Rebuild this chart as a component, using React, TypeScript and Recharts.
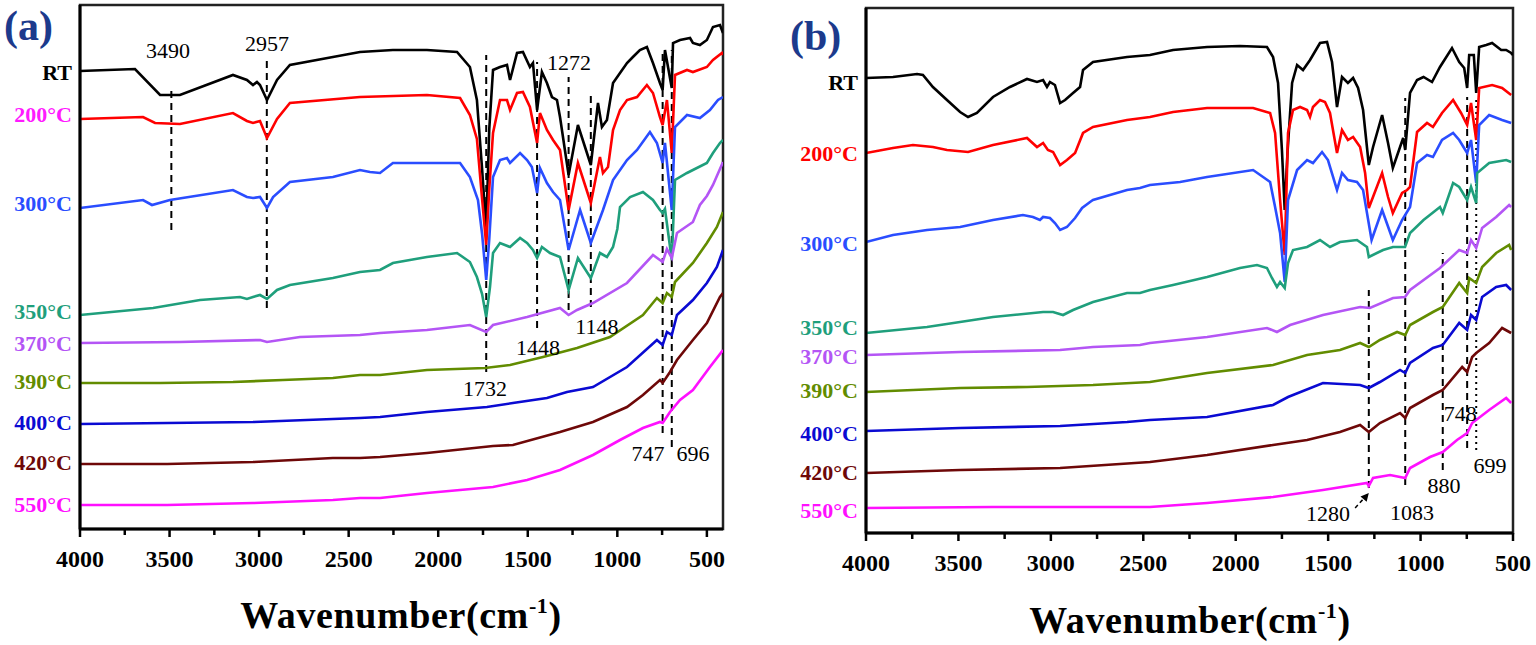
import React from 'react';
import { LineChart, Line, XAxis, YAxis, ReferenceLine, ReferenceDot, ReferenceArea } from 'recharts';

type Pt = [number, number];

// ---------- categories ----------
const TEMPS = ['RT', '200°C', '300°C', '350°C', '370°C', '390°C', '400°C', '420°C', '550°C'];
const LINE_COLORS = ['#000000', '#ff0000', '#2a4dff', '#1f9f7c', '#b455f5', '#628c00', '#0a0ad2', '#6e0808', '#ff10ff'];
const LABEL_COLORS_A = ['#000000', '#ff1aff', '#2a4dff', '#1f9f7c', '#b455f5', '#628c00', '#0a0ad2', '#6e0808', '#ff10ff'];
const LABEL_COLORS_B = ['#000000', '#ff0000', '#2a4dff', '#1f9f7c', '#b455f5', '#628c00', '#0a0ad2', '#6e0808', '#ff10ff'];
const X_TICKS = [4000, 3750, 3500, 3250, 3000, 2750, 2500, 2250, 2000, 1750, 1500, 1250, 1000, 750, 500];

// ---------- panel (a) spectra: [wavenumber, transmittance a.u.] ----------
const A_RT: Pt[] = [[4000,458],[3693,460],[3553,434],[3442,434],[3146,454],[3068,449],[3034,444],[3012,447],[2995,444],[2956,429],[2900,449],[2828,464],[2588,472],[2437,477],[2253,479],[2063,479],[1895,477],[1823,462],[1784,429],[1755,360],[1732,299],[1715,400],[1694,459],[1655,462],[1616,464],[1599,449],[1560,476],[1527,477],[1488,462],[1471,466],[1448,419],[1421,457],[1393,446],[1365,432],[1337,429],[1320,412],[1272,354],[1220,404],[1148,364],[1108,426],[1086,402],[1058,409],[1024,446],[985,456],[946,466],[913,472],[874,479],[835,482],[801,466],[762,446],[747,439],[734,479],[717,462],[696,441],[689,486],[650,489],[594,491],[578,486],[539,484],[500,489],[466,502],[427,504],[410,496]];
const A_200: Pt[] = [[4000,410],[3648,412],[3581,406],[3442,405],[3146,416],[3068,408],[3034,406],[2995,408],[2956,391],[2900,410],[2828,426],[2437,432],[2063,434],[1878,431],[1823,414],[1784,390],[1755,330],[1732,284],[1715,340],[1694,396],[1655,429],[1616,429],[1599,419],[1560,436],[1527,437],[1488,422],[1448,386],[1432,416],[1393,399],[1359,389],[1320,379],[1272,319],[1220,366],[1148,326],[1097,372],[1080,356],[1052,362],[1024,399],[985,419],[946,429],[890,432],[835,444],[801,436],[762,412],[747,404],[723,429],[696,376],[678,454],[611,459],[578,457],[500,462],[466,469],[416,476],[410,474]];
const A_300: Pt[] = [[4000,321],[3648,329],[3598,324],[3498,329],[3146,339],[3068,332],[3034,331],[2995,332],[2956,321],[2922,332],[2828,347],[2588,352],[2437,359],[2381,357],[2325,356],[2253,366],[1878,366],[1823,352],[1778,329],[1755,295],[1732,249],[1715,290],[1694,352],[1655,369],[1616,371],[1599,366],[1543,376],[1504,369],[1477,362],[1448,336],[1432,361],[1393,346],[1359,337],[1320,329],[1272,279],[1208,319],[1148,286],[1080,319],[1024,349],[946,369],[890,379],[818,397],[779,386],[747,366],[734,386],[696,319],[678,402],[611,414],[539,411],[483,419],[438,429],[410,432]];
const A_350: Pt[] = [[4000,214],[3592,221],[3330,229],[3107,232],[3068,230],[3034,232],[2995,234],[2956,230],[2900,239],[2828,244],[2588,251],[2437,257],[2325,259],[2253,266],[2063,272],[1895,276],[1823,267],[1784,252],[1755,235],[1732,212],[1711,242],[1694,276],[1655,286],[1599,282],[1543,291],[1504,286],[1471,279],[1448,271],[1421,282],[1376,276],[1320,272],[1272,239],[1220,271],[1148,251],[1097,276],[1058,272],[1024,282],[1000,300],[985,322],[929,332],[857,337],[801,329],[762,319],[747,316],[734,320],[696,269],[678,349],[611,356],[578,359],[500,366],[466,376],[427,386],[410,389]];
const A_370: Pt[] = [[4000,186],[3442,187],[2995,189],[2956,187],[2772,192],[2437,194],[2325,196],[2063,199],[1823,204],[1732,197],[1694,204],[1504,212],[1320,221],[1272,214],[1225,219],[1136,226],[946,246],[801,274],[747,267],[723,280],[696,271],[667,296],[578,307],[539,324],[500,333],[466,344],[410,367]];
const A_390: Pt[] = [[4000,146],[3553,146],[3146,147],[2867,149],[2588,151],[2437,154],[2325,154],[2063,159],[1739,161],[1599,164],[1415,172],[1225,181],[1041,192],[857,214],[779,231],[747,226],[723,236],[696,232],[678,247],[578,266],[500,286],[444,302],[410,317]];
const A_400: Pt[] = [[4000,105],[3514,106],[3034,107],[2588,110],[2437,111],[2325,112],[2063,117],[1728,122],[1583,126],[1393,131],[1281,137],[1136,142],[946,162],[779,189],[747,184],[723,197],[696,194],[667,214],[578,229],[500,246],[444,262],[410,279]];
const A_420: Pt[] = [[4000,65],[3514,65],[3034,67],[2588,71],[2437,71],[2325,72],[2063,76],[1694,83],[1583,84],[1320,97],[1136,107],[946,122],[857,134],[762,149],[747,146],[706,157],[667,169],[578,189],[500,206],[427,232],[410,236]];
const A_550: Pt[] = [[4000,24],[3514,24],[3034,26],[2588,29],[2437,31],[2325,31],[2063,36],[1694,42],[1504,49],[1320,59],[1136,74],[985,89],[857,101],[762,107],[747,106],[706,117],[650,129],[578,139],[483,162],[410,179]];

// ---------- panel (b) spectra ----------
const B_RT: Pt[] = [[4000,455],[3854,456],[3724,459],[3692,458],[3638,446],[3562,433],[3491,421],[3448,416],[3400,420],[3313,436],[3221,446],[3129,454],[3075,451],[3042,453],[3021,446],[3005,451],[2978,448],[2950,430],[2923,433],[2880,440],[2842,446],[2826,463],[2772,471],[2588,476],[2464,478],[2339,483],[2155,486],[1977,487],[1831,486],[1798,476],[1771,450],[1750,383],[1735,323],[1720,380],[1695,450],[1668,468],[1636,463],[1598,473],[1544,490],[1506,491],[1479,471],[1452,426],[1425,456],[1393,450],[1365,455],[1338,445],[1311,423],[1280,368],[1257,386],[1208,418],[1176,390],[1150,365],[1111,386],[1094,395],[1083,383],[1057,440],[1019,453],[984,456],[938,451],[895,466],[830,485],[791,471],[764,465],[748,445],[737,478],[712,478],[699,440],[683,486],[645,488],[613,490],[564,483],[537,483],[510,480],[500,478]];
const B_200: Pt[] = [[4000,380],[3854,385],[3746,388],[3638,386],[3562,383],[3448,381],[3313,388],[3129,395],[3075,386],[3042,390],[3016,383],[2988,381],[2950,368],[2913,373],[2869,380],[2826,400],[2772,406],[2588,413],[2464,416],[2339,421],[2155,425],[1906,425],[1814,420],[1787,400],[1760,333],[1735,278],[1717,400],[1690,423],[1652,426],[1614,423],[1598,416],[1582,426],[1544,433],[1517,431],[1490,420],[1452,380],[1425,403],[1393,393],[1365,396],[1327,386],[1300,360],[1280,325],[1208,360],[1176,336],[1150,320],[1100,340],[1073,343],[1057,346],[1019,401],[965,410],[933,406],[884,420],[824,433],[781,420],[748,408],[727,430],[699,393],[683,445],[613,448],[559,445],[510,438]];
const B_300: Pt[] = [[4000,291],[3854,298],[3670,303],[3491,306],[3313,313],[3151,318],[3097,316],[3059,313],[3042,316],[3005,315],[2978,310],[2950,303],[2913,306],[2869,315],[2831,325],[2788,331],[2772,333],[2588,343],[2518,345],[2464,348],[2301,351],[2155,356],[1906,363],[1852,356],[1814,351],[1787,326],[1760,300],[1735,251],[1717,333],[1668,363],[1614,373],[1582,370],[1533,381],[1501,373],[1452,343],[1425,360],[1393,353],[1344,351],[1311,343],[1265,293],[1208,323],[1150,293],[1100,313],[1057,326],[1019,370],[965,378],[933,376],[884,393],[824,400],[791,393],[748,380],[727,393],[699,350],[683,408],[629,418],[559,413],[510,410]];
const B_350: Pt[] = [[4000,200],[3670,206],[3313,216],[3042,221],[2988,221],[2934,218],[2880,223],[2772,231],[2588,240],[2518,240],[2464,243],[2339,248],[2155,256],[1977,265],[1885,268],[1831,265],[1804,255],[1777,246],[1760,251],[1735,245],[1717,270],[1690,283],[1614,286],[1544,293],[1490,286],[1436,291],[1344,293],[1290,286],[1280,276],[1203,283],[1149,286],[1084,286],[1057,300],[984,313],[895,326],[880,320],[824,350],[791,346],[748,333],[727,346],[699,330],[694,360],[629,370],[537,373],[510,371]];
const B_370: Pt[] = [[4000,178],[3491,181],[2950,183],[2772,186],[2518,188],[2464,190],[2155,196],[1831,205],[1777,201],[1706,208],[1528,218],[1327,226],[1274,225],[1149,235],[1084,236],[1057,243],[895,265],[791,283],[748,280],[727,293],[699,285],[667,305],[591,316],[521,328],[510,326]];
const B_390: Pt[] = [[4000,141],[3491,145],[3129,146],[2772,148],[2464,151],[2155,160],[1798,168],[1614,178],[1436,183],[1327,190],[1280,186],[1220,193],[1127,201],[1083,198],[1057,208],[933,221],[880,226],[791,250],[748,240],[737,255],[699,250],[667,266],[591,280],[521,288],[510,283]];
const B_400: Pt[] = [[4000,102],[3491,105],[2950,107],[2588,111],[2464,113],[2155,116],[1798,128],[1717,136],[1528,150],[1327,148],[1280,145],[1220,151],[1111,163],[1083,160],[1057,170],[933,185],[880,188],[791,210],[748,203],[727,218],[699,213],[667,236],[591,246],[537,248],[510,243]];
const B_420: Pt[] = [[4000,60],[3491,63],[2950,65],[2464,71],[2155,78],[1798,88],[1614,93],[1436,101],[1327,108],[1280,101],[1220,110],[1111,120],[1083,115],[1057,125],[933,138],[880,143],[775,166],[748,161],[721,176],[699,180],[629,190],[559,205],[510,200]];
const B_550: Pt[] = [[4000,25],[3313,26],[2772,26],[2464,26],[2155,30],[1798,36],[1528,43],[1290,50],[1280,47],[1257,55],[1165,58],[1083,55],[1057,65],[949,76],[880,81],[803,93],[748,100],[721,110],[629,123],[537,135],[510,130]];

// label anchor values (transmittance a.u.) for the temperature labels on the left axis
const A_LABEL_Y = [457, 415, 326, 218, 186, 148, 107, 67, 25];
const B_LABEL_Y = [451, 380, 290, 206, 177, 143, 100, 61, 23];

// dashed peak markers: wavenumber, lower value, upper value
const A_MARK_WN = [3490, 2957, 1732, 1448, 1272, 1148, 747, 696];
const A_MARK_LO = [299, 221, 157, 201, 219, 222, 96, 82];
const A_MARK_HI = [442, 471, 474, 467, 452, 436, 479, 479];
const B_MARK_WN = [1280, 1083, 880, 748, 699];
const B_MARK_LO = [45, 48, 63, 85, 83];
const B_MARK_HI = [243, 435, 280, 436, 433];
const B_MARK_DOTTED = [false, false, false, false, true];

// peak annotation texts: text, wavenumber, value
const A_NOTE_TEXT = ['3490', '2957', '1272', '1732', '1448', '1148', '747', '696'];
const A_NOTE_WN = [3509, 2956, 1270, 1739, 1443, 1114, 829, 578];
const A_NOTE_V = [479, 486, 467, 141, 182, 203, 76, 76];
const B_NOTE_TEXT = ['1280', '1083', '880', '748', '699'];
const B_NOTE_WN = [1501, 1046, 873, 786, 624];
const B_NOTE_V = [20, 21, 48, 120, 68];
const B_ARROW: Pt[] = [[1354, 25], [1280, 40]];

const SERIES_A = [A_RT, A_200, A_300, A_350, A_370, A_390, A_400, A_420, A_550];
const SERIES_B = [B_RT, B_200, B_300, B_350, B_370, B_390, B_400, B_420, B_550];

const FONT = '"Liberation Serif", "Times New Roman", Times, serif';

const toRows = (pts: Pt[]) => pts.map(([wn, v]) => ({ wn, v }));

const XTick = (props: any) => {
  const { x, y, payload } = props;
  const major = payload.value % 500 === 0;
  return (
    <g>
      <line x1={x} y1={y} x2={x} y2={y + (major ? 8 : 6)} stroke="#000" strokeWidth={2.5} />
      {major && (
        <text x={x} y={y + 38} textAnchor="middle" fontFamily={FONT} fontWeight="bold" fontSize={24} fill="#000">
          {payload.value}
        </text>
      )}
    </g>
  );
};

const makeYTick = (values: number[], colors: string[]) => (props: any) => {
  const { x, y, payload } = props;
  const i = values.indexOf(payload.value);
  if (i < 0) return <g />;
  return (
    <text x={x} y={y} dy="0.35em" textAnchor="end" fontFamily={FONT} fontWeight="bold" fontSize={22} fill={colors[i]}>
      {TEMPS[i]}
    </text>
  );
};

const noteShape = (text: string) => (p: any) => (
  <text x={p.cx} y={p.cy} dy="0.35em" textAnchor="middle" fontFamily={FONT} fontSize={22} fill="#000">
    {text}
  </text>
);

const arrowHead = (p: any) => (
  <polygon
    points={`${p.cx},${p.cy} ${p.cx - 2.2},${p.cy + 8.7} ${p.cx - 8.3},${p.cy + 3.4}`}
    fill="#000"
  />
);

interface PanelProps {
  left: number;
  width: number;
  marginTop: number;
  marginRight: number;
  yAxisW: number;
  xAxisH: number;
  xMin: number;
  yMax: number;
  series: Pt[][];
  labelY: number[];
  labelColors: string[];
  markWn: number[];
  markLo: number[];
  markHi: number[];
  markDotted?: boolean[];
  noteText: string[];
  noteWn: number[];
  noteV: number[];
  arrow?: Pt[];
}

function Panel(p: PanelProps) {
  return (
    <div style={{ position: 'absolute', left: p.left, top: 0 }}>
      <LineChart
        width={p.width}
        height={645}
        margin={{ top: p.marginTop, right: p.marginRight, left: 0, bottom: 0 }}
      >
        <XAxis
          type="number"
          dataKey="wn"
          domain={[p.xMin, 4000]}
          reversed
          allowDataOverflow
          ticks={X_TICKS}
          interval={0}
          tickSize={0}
          tickMargin={0}
          tickLine={false}
          tick={<XTick />}
          height={p.xAxisH}
          axisLine={{ stroke: '#000', strokeWidth: 3 }}
        />
        <YAxis
          type="number"
          domain={[0, p.yMax]}
          allowDataOverflow
          ticks={p.labelY}
          interval={0}
          tickSize={0}
          tickMargin={8}
          tickLine={false}
          tick={makeYTick(p.labelY, p.labelColors)}
          width={p.yAxisW}
          axisLine={{ stroke: '#000', strokeWidth: 3 }}
        />
        <ReferenceArea
          x1={p.xMin}
          x2={4000}
          y1={0}
          y2={p.yMax}
          fill="none"
          fillOpacity={0}
          stroke="#222"
          strokeWidth={2.5}
          ifOverflow="visible"
        />
        {p.markWn.map((wn, i) => (
          <ReferenceLine
            key={'m' + i}
            segment={[{ x: wn, y: p.markLo[i] }, { x: wn, y: p.markHi[i] }]}
            stroke="#000"
            strokeWidth={2}
            strokeDasharray={p.markDotted && p.markDotted[i] ? '2 4' : '7 5'}
            ifOverflow="visible"
          />
        ))}
        {p.series.map((s, i) => (
          <Line
            key={'s' + i}
            data={toRows(s)}
            dataKey="v"
            type="linear"
            stroke={LINE_COLORS[i]}
            strokeWidth={2.6}
            dot={false}
            activeDot={false}
            isAnimationActive={false}
          />
        ))}
        {p.arrow && (
          <ReferenceLine
            segment={[{ x: p.arrow[0][0], y: p.arrow[0][1] }, { x: p.arrow[1][0], y: p.arrow[1][1] }]}
            stroke="#000"
            strokeWidth={1.5}
            strokeDasharray="4 3"
            ifOverflow="visible"
          />
        )}
        {p.arrow && (
          <ReferenceDot x={p.arrow[1][0]} y={p.arrow[1][1]} r={0} shape={arrowHead} ifOverflow="visible" />
        )}
        {p.noteText.map((t, i) => (
          <ReferenceDot
            key={'n' + i}
            x={p.noteWn[i]}
            y={p.noteV[i]}
            r={0}
            shape={noteShape(t)}
            ifOverflow="visible"
          />
        ))}
      </LineChart>
    </div>
  );
}

function Title({ cx, y }: { cx: number; y: number }) {
  return (
    <text x={cx} y={y} textAnchor="middle" fontFamily={FONT} fontWeight="bold" fontSize={38} letterSpacing={0.6} fill="#000">
      Wavenumber(cm
      <tspan dy={-15} fontSize={22}>-1</tspan>
      <tspan dy={15}>)</tspan>
    </text>
  );
}

export default function App() {
  return (
    <div style={{ position: 'absolute', left: 0, top: 0, width: 1536, height: 645, background: '#fff', overflow: 'hidden' }}>
      <Panel
        left={0}
        width={740}
        marginTop={5}
        marginRight={17}
        yAxisW={80}
        xAxisH={116}
        xMin={410}
        yMax={524}
        series={SERIES_A}
        labelY={A_LABEL_Y}
        labelColors={LABEL_COLORS_A}
        markWn={A_MARK_WN}
        markLo={A_MARK_LO}
        markHi={A_MARK_HI}
        noteText={A_NOTE_TEXT}
        noteWn={A_NOTE_WN}
        noteV={A_NOTE_V}
      />
      <Panel
        left={766}
        width={770}
        marginTop={8}
        marginRight={23}
        yAxisW={100}
        xAxisH={112}
        xMin={500}
        yMax={525}
        series={SERIES_B}
        labelY={B_LABEL_Y}
        labelColors={LABEL_COLORS_B}
        markWn={B_MARK_WN}
        markLo={B_MARK_LO}
        markHi={B_MARK_HI}
        markDotted={B_MARK_DOTTED}
        noteText={B_NOTE_TEXT}
        noteWn={B_NOTE_WN}
        noteV={B_NOTE_V}
        arrow={B_ARROW}
      />
      <svg width={1536} height={645} style={{ position: 'absolute', left: 0, top: 0, pointerEvents: 'none' }}>
        <text x={4} y={40} fontFamily={FONT} fontWeight="bold" fontSize={42} fill="#1c3a8c">(a)</text>
        <text x={790} y={50} fontFamily={FONT} fontWeight="bold" fontSize={42} fill="#1c3a8c">(b)</text>
        <Title cx={401} y={628} />
        <Title cx={1190} y={633} />
      </svg>
    </div>
  );
}
